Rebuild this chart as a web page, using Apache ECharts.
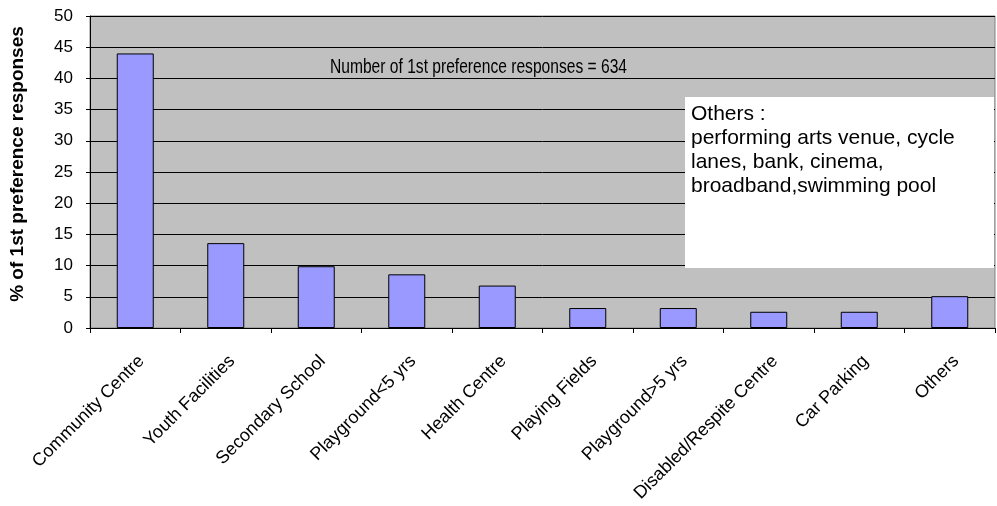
<!DOCTYPE html>
<html>
<head>
<meta charset="utf-8">
<script src="https://cdn.jsdelivr.net/npm/echarts@6/dist/echarts.min.js"></script>
<style>html,body{margin:0;padding:0;background:#fff}#c{width:997px;height:506px}</style>
</head>
<body>
<div id="c"></div>
<script>
const categories = ["Community Centre","Youth Facilities","Secondary School","Playground<5 yrs","Health Centre","Playing Fields","Playground>5 yrs","Disabled/Respite Centre","Car Parking","Others"];
const values = [44.0, 13.6, 9.9, 8.6, 6.8, 3.2, 3.2, 2.6, 2.6, 5.1];
const yTitle = "% of 1st preference responses";
const noteText = "Number of 1st preference responses = 634";
const othersText = "Others :\nperforming arts venue, cycle\nlanes, bank, cinema,\nbroadband,swimming pool";

const font = "'Liberation Sans', Arial, sans-serif";
const chart = echarts.init(document.getElementById('c'));
chart.setOption({
  animation: false,
  grid: {left: 90, right: 2, top: 16, bottom: 178, show: true, backgroundColor: '#c0c0c0', borderColor: '#808080', borderWidth: 1},
  xAxis: {
    type: 'category', data: categories,
    axisLine: {lineStyle: {color: '#000'}},
    axisTick: {show: true, alignWithLabel: false, length: 5, lineStyle: {color: '#000'}},
    axisLabel: {rotate: 45, color: '#000', fontFamily: font, fontSize: 18, margin: 24, interval: 0, verticalAlign: 'top'}
  },
  yAxis: {
    type: 'value', min: 0, max: 50, interval: 5,
    name: yTitle, nameLocation: 'middle', nameGap: 63, nameRotate: 90,
    nameTextStyle: {fontFamily: font, fontSize: 19, fontWeight: 'bold', color: '#000', padding: [0, 0, 0, 16]},
    axisLine: {show: true, lineStyle: {color: '#000'}},
    axisTick: {show: true, length: 4, lineStyle: {color: '#000'}},
    axisLabel: {color: '#000', fontFamily: font, fontSize: 17, margin: 17},
    splitLine: {lineStyle: {color: '#000', width: 1}}
  },
  series: [{
    type: 'bar', data: values, barWidth: 37,
    itemStyle: {color: '#9999ff', borderColor: '#000', borderWidth: 1}
  }],
  graphic: [
    {type: 'text', x: 330, y: 57, scaleX: 0.78, style: {text: noteText, font: "20px " + font, fill: '#000'}},
    {type: 'rect', shape: {x: 685, y: 97, width: 309, height: 171}, style: {fill: '#fff'}, z: 10},
    {type: 'text', x: 691, y: 102, z: 11, style: {text: othersText, font: "21px " + font, fill: '#000', lineHeight: 24}}
  ]
});
</script>
</body>
</html>
